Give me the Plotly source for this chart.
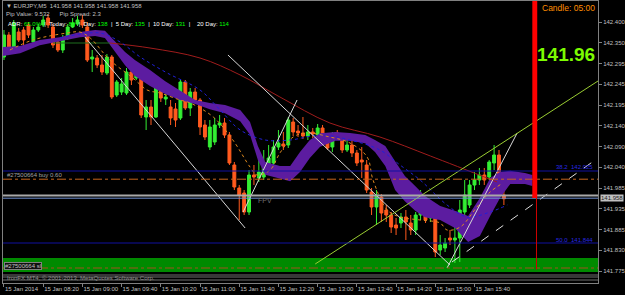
import plotly.graph_objects as go

# ---------------- data ----------------
bar_index = list(range(103))
opens = [142.3125, 142.3675, 142.3375, 142.375, 142.380, 142.3925, 142.350, 142.380, 142.3925, 142.410,
         142.3875, 142.350, 142.330, 142.360, 142.3875, 142.395, 142.405, 142.3875, 142.3075, 142.310,
         142.2925, 142.2725, 142.3125, 142.2175, 142.225, 142.2225, 142.275, 142.260, 142.285, 142.1625,
         142.1875, 142.1625, 142.2425, 142.2075, 142.1875, 142.1825, 142.160, 142.250, 142.185, 142.225,
         142.205, 142.1425, 142.0875, 142.100, 142.1425, 142.1475, 142.1175, 142.0425, 141.985, 141.9725,
         141.925, 142.0175, 142.010, 142.0125, 142.0425, 142.0475, 142.0875, 142.095, 142.0925, 142.150,
         142.1275, 142.1225, 142.115, 142.125, 142.1175, 142.135, 142.100, 142.0875, 142.1225, 142.1125,
         142.080, 142.0925, 142.0725, 142.055, 142.0425, 141.975, 141.9375, 141.9625, 141.930, 141.9175,
         141.8925, 141.8975, 141.9125, 141.8975, 141.880, 141.9175, 141.950, 141.910, 141.9125, 141.830,
         141.835, 141.860, 141.855, 141.860, 141.925, 141.9425, 141.9925, 142.005, 142.0175, 142.0125,
         142.0475, 142.0675, 141.9675]
highs = [142.380, 142.375, 142.405, 142.385, 142.3875, 142.400, 142.3875, 142.395, 142.415, 142.420,
         142.395, 142.360, 142.3675, 142.395, 142.410, 142.415, 142.4175, 142.400, 142.330, 142.3175,
         142.3175, 142.320, 142.3175, 142.255, 142.260, 142.285, 142.305, 142.300, 142.290, 142.205,
         142.205, 142.260, 142.250, 142.225, 142.205, 142.1975, 142.255, 142.255, 142.235, 142.235,
         142.210, 142.155, 142.155, 142.160, 142.1675, 142.160, 142.125, 142.050, 141.9925, 141.980,
         142.030, 142.0425, 142.0675, 142.080, 142.0925, 142.105, 142.130, 142.125, 142.1625, 142.160,
         142.1425, 142.1625, 142.1425, 142.135, 142.145, 142.1425, 142.110, 142.125, 142.130, 142.1225,
         142.105, 142.105, 142.080, 142.0875, 142.055, 141.985, 141.980, 141.970, 141.9425, 141.925,
         141.910, 141.9225, 141.930, 141.9175, 141.925, 141.980, 141.960, 141.925, 141.920, 141.8675,
         141.860, 141.880, 141.8925, 141.955, 142.005, 142.005, 142.025, 142.035, 142.035, 142.055,
         142.0925, 142.080, 141.985]
lows = [142.305, 142.330, 142.335, 142.350, 142.3425, 142.360, 142.345, 142.375, 142.3875, 142.385,
        142.335, 142.325, 142.3225, 142.355, 142.385, 142.390, 142.385, 142.300, 142.275, 142.285,
        142.2675, 142.2675, 142.2075, 142.2125, 142.2175, 142.2175, 142.2425, 142.255, 142.160, 142.130,
        142.1425, 142.160, 142.200, 142.1925, 142.1425, 142.1375, 142.155, 142.180, 142.165, 142.1975,
        142.1175, 142.105, 142.080, 142.0925, 142.135, 142.110, 142.0425, 141.980, 141.905, 141.9175,
        141.9175, 141.9925, 142.000, 142.005, 142.025, 142.0425, 142.080, 142.080, 142.085, 142.115,
        142.1125, 142.1075, 142.105, 142.110, 142.110, 142.0975, 142.080, 142.075, 142.110, 142.0725,
        142.075, 142.0625, 142.040, 142.010, 141.9725, 141.9175, 141.8925, 141.900, 141.900, 141.8725,
        141.8675, 141.885, 141.855, 141.8675, 141.8675, 141.905, 141.8975, 141.900, 141.8125, 141.8175,
        141.825, 141.8425, 141.7975, 141.800, 141.9175, 141.935, 141.980, 141.9925, 141.9925, 142.005,
        142.030, 141.9625, 141.9425]
closes = [142.3675, 142.3375, 142.3975, 142.355, 142.355, 142.3675, 142.380, 142.3875, 142.405, 142.3925,
          142.3425, 142.330, 142.360, 142.3875, 142.3975, 142.405, 142.3925, 142.305, 142.3125, 142.2925,
          142.275, 142.3125, 142.2125, 142.250, 142.245, 142.275, 142.255, 142.2875, 142.1675, 142.1875,
          142.1625, 142.2425, 142.210, 142.2125, 142.160, 142.155, 142.250, 142.185, 142.225, 142.205,
          142.1375, 142.1125, 142.1375, 142.1425, 142.1475, 142.1175, 142.0475, 141.9875, 141.9675, 141.925,
          142.0175, 142.0125, 142.025, 142.0475, 142.060, 142.0875, 142.0975, 142.090, 142.155, 142.125,
          142.1225, 142.115, 142.125, 142.120, 142.135, 142.105, 142.085, 142.1175, 142.1175, 142.080,
          142.0925, 142.0725, 142.0475, 142.050, 141.980, 141.9375, 141.9675, 141.9225, 141.9175, 141.8875,
          141.885, 141.9125, 141.900, 141.880, 141.9175, 141.950, 141.905, 141.915, 141.825, 141.8425,
          141.8475, 141.855, 141.860, 141.930, 141.9675, 141.9925, 142.005, 142.0175, 142.005, 142.050,
          142.0675, 141.9675, 141.958]

time_tick_index = [0, 8, 16, 24, 32, 40, 48, 56, 64, 72, 80, 88, 96]
time_tick_labels = ["15 Jan 2014", "15 Jan 08:20", "15 Jan 09:00", "15 Jan 09:40", "15 Jan 10:20",
                    "15 Jan 11:00", "15 Jan 11:40", "15 Jan 12:20", "15 Jan 13:00", "15 Jan 13:40",
                    "15 Jan 14:20", "15 Jan 15:00", "15 Jan 15:40"]
price_tick_values = [142.400, 142.3481, 142.2962, 142.2443, 142.1924, 142.1405, 142.0886,
                     142.0367, 141.9848, 141.9329, 141.881, 141.8291, 141.7772]
price_tick_labels = ["142.400", "142.350", "142.295", "142.245", "142.195", "142.140", "142.090",
                     "142.040", "141.985", "141.935", "141.885", "141.830", "141.775"]

# cloud (kumo)
cloud_x = [-0.2, 3.3, 7.3, 11.4, 15.5, 18.6, 20.6, 22.7, 24.7, 26.7, 29.8, 32.9, 35.9, 39.0, 42.0,
           45.1, 48.2, 50.2, 51.8, 53.3, 56.3, 58.4, 60.4, 62.4, 64.5, 67.6, 70.6, 73.7, 75.7, 77.8,
           79.8, 81.8, 83.9, 85.9, 89.0, 92.0, 94.7, 97.1, 99.2, 101.2, 103.3, 106.3, 107.8]
cloud_upper = [142.3375, 142.340, 142.355, 142.362, 142.375, 142.380, 142.378, 142.350, 142.325, 142.305,
               142.280, 142.252, 142.228, 142.205, 142.1975, 142.1925, 142.180, 142.150, 142.090, 142.050,
               142.040, 142.040, 142.075, 142.105, 142.122, 142.125, 142.1225, 142.1175, 142.105, 142.090,
               142.052, 142.015, 141.990, 141.965, 141.940, 141.928, 141.915, 141.960, 142.010, 142.025,
               142.028, 142.0225, 142.0175]
cloud_lower = [142.315, 142.322, 142.342, 142.352, 142.362, 142.365, 142.360, 142.325, 142.292, 142.265,
               142.240, 142.220, 142.205, 142.195, 142.182, 142.172, 142.152, 142.118, 142.055, 142.018,
               142.008, 142.002, 142.025, 142.060, 142.088, 142.103, 142.103, 142.097, 142.075, 142.040,
               141.980, 141.952, 141.928, 141.912, 141.905, 141.885, 141.850, 141.865, 141.915, 141.960,
               141.995, 141.995, 141.990]

# slow moving average (dark red) and its flat green part
slow_ma_x = [21.6, 29.8, 40.0, 48.2, 56.3, 66.5, 76.7, 87.0, 100.6]
slow_ma_y = [142.3475, 142.335, 142.310, 142.2675, 142.2125, 142.1475, 142.1125, 142.065, 142.000]
flat_ma_x = [10.0, 21.6]
flat_ma_y = [142.3475, 142.3475]

# blue dotted average
blue_ma_x = [11.4, 19.6, 23.7, 27.8, 33.3, 40.0, 44.1, 48.2, 53.3, 58.4, 64.5, 70.6, 76.7, 80.8,
             84.9, 90.4, 94.5, 99.2, 102.7]
blue_ma_y = [142.360, 142.3725, 142.350, 142.3125, 142.2725, 142.230, 142.180, 142.130, 142.105, 142.105,
             142.1175, 142.105, 142.080, 142.0425, 142.005, 141.9425, 141.9125, 141.925, 141.9425]

# orange dotted average
orange_ma_x = [1.2, 5.9, 12.9, 15.5, 17.6, 21.6, 26.3, 29.2, 31.8, 35.9, 38.0, 42.7, 46.7, 50.2, 51.6,
               54.3, 56.3, 59.0, 61.8, 66.5, 70.6, 74.1, 75.3, 78.2, 80.8, 84.9, 89.0, 90.4, 93.1, 96.5,
               99.2, 101.8]
orange_ma_y = [142.330, 142.355, 142.3725, 142.375, 142.360, 142.305, 142.260, 142.230, 142.2225, 142.205,
               142.1975, 142.1625, 142.105, 142.0375, 142.0175, 142.030, 142.0725, 142.1125, 142.1225,
               142.1125, 142.0975, 142.0625, 142.005, 141.930, 141.9125, 141.905, 141.8975, 141.880,
               141.8875, 141.9375, 141.975, 141.9975]

# trend lines
trend_a_x = [16.5, 49.2]
trend_a_y = [142.3625, 141.885]
trend_c_x = [45.7, 91.0]
trend_c_y = [142.3175, 141.7925]
trend_d_x = [48.8, 59.8]
trend_d_y = [141.925, 142.205]
trend_e_x = [90.4, 104.7]
trend_e_y = [141.785, 142.1225]
trend_g_x = [91.4, 121.2]
trend_g_y = [141.800, 142.060]
trend_h_x = [63.5, 121.2]
trend_h_y = [141.795, 142.2525]

# horizontal levels
fib_382 = 142.0275
fib_500 = 141.8475
buy_level = 142.007
ask_level = 141.966
bid_level = 141.9595
sl_level = 141.785
zone_low = 141.775
zone_high = 141.810
frame_levels = [141.7675, 141.7625, 141.755]

timer_index = 108.3
timer_price = 141.960

# ---------------- figure ----------------
GREEN = "#33ee33"
ORANGE = "#ff5a1e"
PURPLE = "#5c1ca0"
FONT = "Liberation Sans, Arial, sans-serif"

fig = go.Figure()

fig.add_trace(go.Scatter(x=cloud_x, y=cloud_lower, mode="lines", line=dict(width=0, color=PURPLE),
                         hoverinfo="skip"))
fig.add_trace(go.Scatter(x=cloud_x, y=cloud_upper, mode="lines", line=dict(width=0, color=PURPLE),
                         fill="tonexty", fillcolor=PURPLE, hoverinfo="skip"))

fig.add_trace(go.Scatter(x=flat_ma_x, y=flat_ma_y, mode="lines", line=dict(color="#1e6e1e", width=1)))
fig.add_trace(go.Scatter(x=slow_ma_x, y=slow_ma_y, mode="lines", line=dict(color="#a01c1c", width=1),
                         line_shape="spline"))

fig.add_trace(go.Candlestick(x=bar_index, open=opens, high=highs, low=lows, close=closes,
                             increasing=dict(line=dict(color=GREEN, width=1), fillcolor=GREEN),
                             decreasing=dict(line=dict(color=ORANGE, width=1), fillcolor=ORANGE),
                             whiskerwidth=0))

fig.add_trace(go.Scatter(x=blue_ma_x, y=blue_ma_y, mode="lines",
                         line=dict(color="#2020d8", width=1, dash="dot"), line_shape="spline"))
fig.add_trace(go.Scatter(x=orange_ma_x, y=orange_ma_y, mode="lines",
                         line=dict(color="#e08a1e", width=1, dash="dot"), line_shape="spline"))

for tx, ty in [(trend_a_x, trend_a_y), (trend_c_x, trend_c_y), (trend_d_x, trend_d_y), (trend_e_x, trend_e_y)]:
    fig.add_trace(go.Scatter(x=tx, y=ty, mode="lines", line=dict(color="#d8d8d8", width=1)))
fig.add_trace(go.Scatter(x=trend_g_x, y=trend_g_y, mode="lines", line=dict(color="#e0e0e0", width=1, dash="dash")))
fig.add_trace(go.Scatter(x=trend_h_x, y=trend_h_y, mode="lines", line=dict(color="#9acd32", width=1)))

shapes = []
shapes.append(dict(type="rect", xref="paper", yref="y", x0=0, x1=1, y0=zone_low, y1=zone_high,
                   fillcolor="#008a00", line=dict(width=0), layer="below"))
shapes.append(dict(type="line", xref="paper", yref="y", x0=0, x1=1, y0=sl_level, y1=sl_level,
                   line=dict(color="#a0501e", width=1, dash="dashdot")))
for lv in frame_levels:
    shapes.append(dict(type="line", xref="paper", yref="y", x0=0, x1=1, y0=lv, y1=lv,
                       line=dict(color="#707070", width=1)))
shapes.append(dict(type="line", xref="paper", yref="y", x0=0, x1=1, y0=fib_382, y1=fib_382,
                   line=dict(color="#1010a0", width=1)))
shapes.append(dict(type="line", xref="paper", yref="y", x0=0, x1=1, y0=fib_500, y1=fib_500,
                   line=dict(color="#1010a0", width=1)))
shapes.append(dict(type="line", xref="paper", yref="y", x0=0, x1=1, y0=buy_level, y1=buy_level,
                   line=dict(color="#c8641e", width=1, dash="dashdot")))
shapes.append(dict(type="line", xref="paper", yref="y", x0=0, x1=1, y0=ask_level, y1=ask_level,
                   line=dict(color="#a8a8a8", width=2)))
shapes.append(dict(type="line", xref="paper", yref="y", x0=0, x1=1, y0=bid_level, y1=bid_level,
                   line=dict(color="#7090d0", width=1)))
shapes.append(dict(type="rect", xref="x", yref="y", x0=timer_index - 0.5, x1=timer_index + 0.5,
                   y0=timer_price, y1=142.4525, fillcolor="#ff0000", line=dict(width=0)))
shapes.append(dict(type="line", xref="x", yref="y", x0=timer_index + 0.35, x1=timer_index + 0.35,
                   y0=timer_price, y1=sl_level - 0.004, line=dict(color="#d00000", width=1)))

small = dict(family=FONT, size=6, color="#c0c0c0")
ann = []
ann.append(dict(x=0.002, y=0.982, xref="paper", yref="paper", xanchor="left", yanchor="middle", showarrow=False,
                text="▼ EURJPY,M5  141.958 141.958 141.958 141.958", font=small))
ann.append(dict(x=0.002, y=0.954, xref="paper", yref="paper", xanchor="left", yanchor="middle", showarrow=False,
                text="Pip Value: 9.532&nbsp;&nbsp;&nbsp;&nbsp;&nbsp;&nbsp;Pip Spread: 2.3", font=small))
g = "#00ff00"
adr = ("ADR: <span style='color:%s'>65.0%%</span>&nbsp;&nbsp;|&nbsp;&nbsp;Today: <span style='color:%s'>89</span>"
       "&nbsp;&nbsp;|&nbsp;&nbsp;Day: <span style='color:%s'>138</span>&nbsp;&nbsp;|&nbsp;&nbsp;5 Day: "
       "<span style='color:%s'>135</span>&nbsp;&nbsp;|&nbsp;&nbsp;10 Day: <span style='color:%s'>131</span>"
       "&nbsp;&nbsp;|&nbsp;&nbsp;&nbsp;&nbsp;20 Day: <span style='color:%s'>114</span>") % (g, g, g, g, g, g)
ann.append(dict(x=0.005, y=0.918, xref="paper", yref="paper", xanchor="left", yanchor="middle", showarrow=False,
                text=adr, font=dict(family=FONT, size=6, color="#ffffff")))
ann.append(dict(x=0.998, y=0.975, xref="paper", yref="paper", xanchor="right", yanchor="middle", showarrow=False,
                text="Candle: 05:00", font=dict(family=FONT, size=8.5, color="#ff8c00")))
ann.append(dict(x=0.999, y=0.812, xref="paper", yref="paper", xanchor="right", yanchor="middle", showarrow=False,
                text="<b>141.96</b>", font=dict(family=FONT, size=19, color="#7cfc00")))
ann.append(dict(x=0.003, y=0.382, xref="paper", yref="paper", xanchor="left", yanchor="middle", showarrow=False,
                text="#27500664 buy 0.60", font=dict(family=FONT, size=6, color="#a0a0a0")))
ann.append(dict(x=0.425, y=0.294, xref="paper", yref="paper", xanchor="left", yanchor="middle", showarrow=False,
                text="FPV", font=dict(family=FONT, size=7, color="#707070")))
ann.append(dict(x=0.995, y=0.411, xref="paper", yref="paper", xanchor="right", yanchor="middle", showarrow=False,
                text="38.2  142.025", font=dict(family=FONT, size=6, color="#2828e0")))
ann.append(dict(x=0.995, y=0.152, xref="paper", yref="paper", xanchor="right", yanchor="middle", showarrow=False,
                text="50.0  141.844", font=dict(family=FONT, size=6, color="#2828e0")))
ann.append(dict(x=0.001, y=0.062, xref="paper", yref="paper", xanchor="left", yanchor="middle", showarrow=False,
                text="#27500664 sl", font=dict(family=FONT, size=6, color="#c0c0c0"),
                bgcolor="#101010", bordercolor="#808080", borderwidth=1, borderpad=0))
ann.append(dict(x=0.003, y=0.016, xref="paper", yref="paper", xanchor="left", yanchor="middle", showarrow=False,
                text="IronFX MT4, © 2001-2013, MetaQuotes Software Corp.", font=dict(family=FONT, size=6, color="#909090")))
ann.append(dict(x=1.004, y=0.303, xref="paper", yref="paper", xanchor="left", yanchor="middle", showarrow=False,
                text="141.958", font=dict(family=FONT, size=6, color="#202020"), bgcolor="#c0c0c0",
                borderpad=0))

fig.update_layout(
    width=625, height=295,
    margin=dict(l=3, r=27, t=1, b=12, autoexpand=False),
    paper_bgcolor="#000000", plot_bgcolor="#000000",
    showlegend=False, hovermode=False, boxgap=0.15,
    shapes=shapes, annotations=ann,
    xaxis=dict(range=[-0.2, 121.2], tickvals=time_tick_index, ticktext=time_tick_labels,
               showgrid=False, zeroline=False, showline=True, mirror=True, linecolor="#808080",
               ticks="outside", ticklen=3, tickcolor="#808080", ticklabelposition="outside right",
               tickangle=0, automargin=False,
               tickfont=dict(family=FONT, size=6, color="#c0c0c0"), rangeslider=dict(visible=False)),
    yaxis=dict(range=[141.7475, 142.4525], side="right", tickvals=price_tick_values, ticktext=price_tick_labels,
               showgrid=False, zeroline=False, showline=True, mirror=True, linecolor="#808080",
               ticks="outside", ticklen=3, tickcolor="#808080", automargin=False,
               tickfont=dict(family=FONT, size=6, color="#c0c0c0")),
)

fig.write_html("out.html")
